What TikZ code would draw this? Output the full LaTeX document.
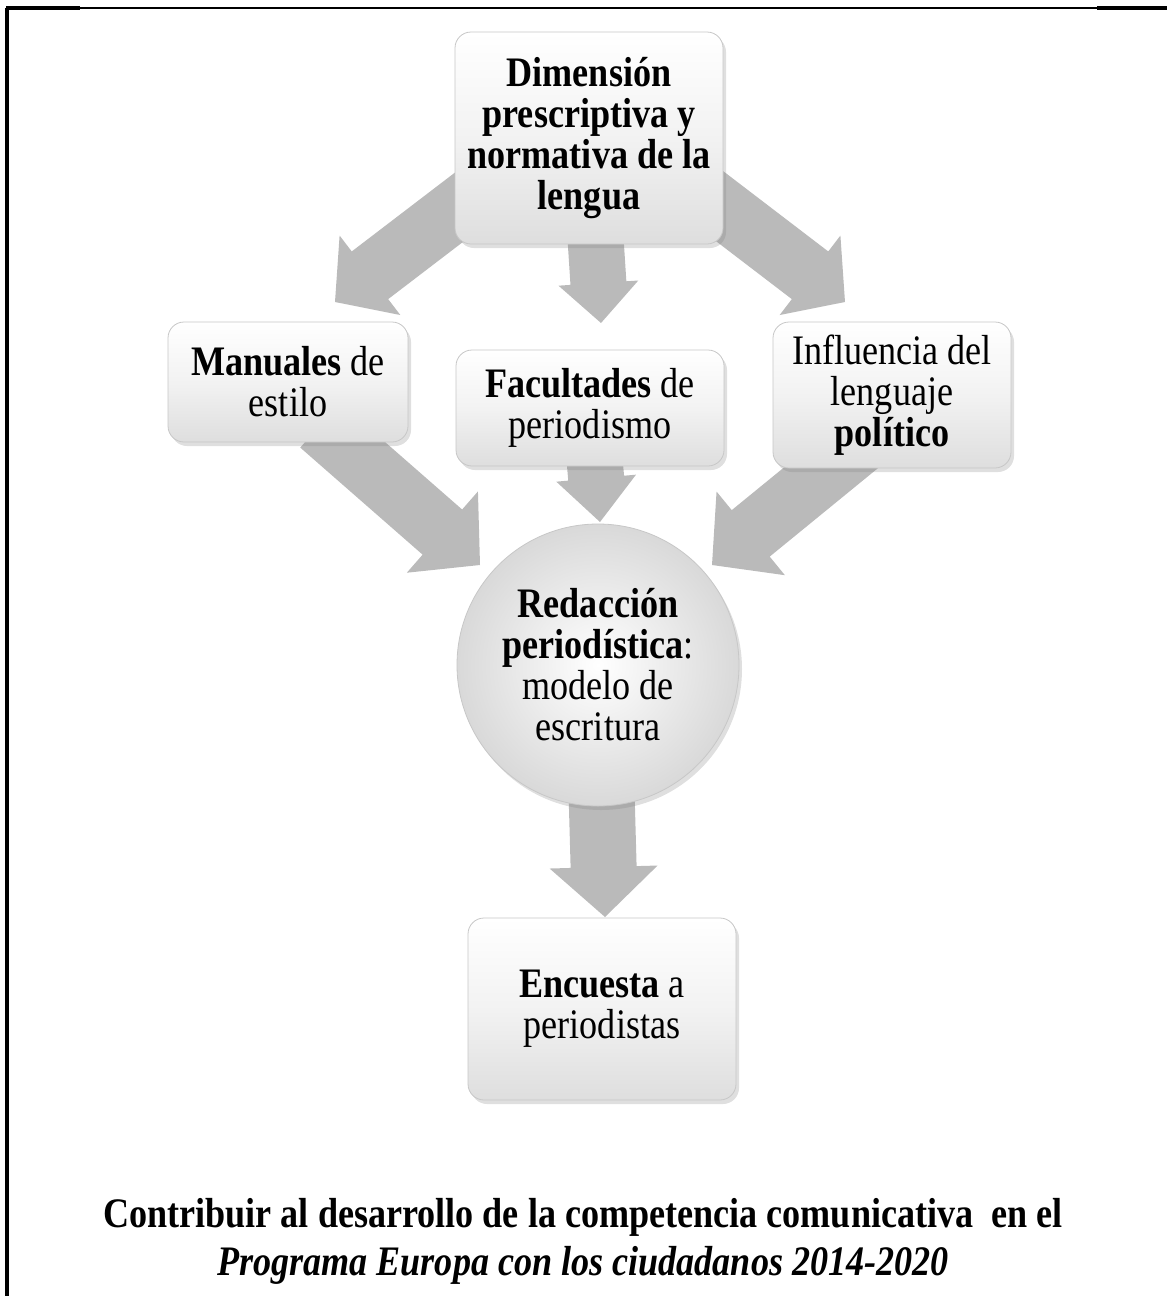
\documentclass[tikz,border=0pt]{standalone}
\usepackage{fontspec}
\setmainfont{Liberation Serif}[FakeStretch=0.86]
\usetikzlibrary{calc,shadows,backgrounds}

\tikzset{
  glossy/.style={rounded corners=8pt, draw=black!22, top color=white, bottom color=black!13,
    middle color=black!5, drop shadow={shadow xshift=1.5pt, shadow yshift=-2pt, opacity=0.25},
    align=center, font=\fontsize{21}{20.5}\selectfont},
}

% wide block arrow: start, tip, shaft half width, head half width, head length
\newcommand{\fatarrow}[5]{%
  \coordinate (hb) at ($(#2)!#5!(#1)$);
  \fill[black!27] ($(#1)!#3!90:(#2)$) -- ($(hb)!#3!-90:(#1)$) -- ($(hb)!#4!-90:(#1)$) -- (#2)
    -- ($(hb)!#4!90:(#1)$) -- ($(hb)!#3!90:(#1)$) -- ($(#1)!#3!-90:(#2)$) -- cycle;}

\begin{document}
\begin{tikzpicture}[x=0.5pt,y=-0.5pt]
            \useasboundingbox (0,0) rectangle (1167,1296);
            % page frame
            \draw[line width=1.6pt] (6,8) -- (80,8);
            \draw[line width=0.8pt] (80,8) -- (1097,8);
            \draw[line width=1.6pt] (1097,8) -- (1167,8);
            \draw[line width=1.6pt] (7,8) -- (7,1296);

            \begin{scope}[every node/.style={glossy}]
                \node[minimum width=134pt, minimum height=106pt] (dim) at (589,138) {\textbf{Dimensión}\\\textbf{prescriptiva y}\\\textbf{normativa de la}\\\textbf{lengua}};
                \node[minimum width=120pt, minimum height=60pt] (man) at (288,382) {\textbf{Manuales} de\\estilo};
                \node[minimum width=134pt, minimum height=58pt] (fac) at (590,408) {\textbf{Facultades} de\\periodismo};
                \node[minimum width=119pt, minimum height=73pt] (inf) at (892,395) {Influencia del\\lenguaje\\\textbf{político}};
                \node[circle, rounded corners=0pt, minimum size=141pt, inner color=white, outer color=black!15] (red) at (598,665) {\textbf{Redacción}\\\textbf{periodística}:\\modelo de\\escritura};
                \node[minimum width=134pt, minimum height=91pt] (enc) at (602,1009) {\textbf{Encuesta} a\\periodistas};
            \end{scope}

            % arrow ends
            \coordinate (p1) at (475,195);
            \coordinate (p2) at (335,302);
            \coordinate (p3) at (705,195);
            \coordinate (p4) at (845,302);
            \coordinate (p5) at (320,425);
            \coordinate (p6) at (480,565);
            \coordinate (p7) at (865,440);
            \coordinate (p8) at (712,565);
            \coordinate (p9) at (601,323);
            \coordinate (p10) at (600,522);
            \coordinate (p11) at (605,917);

            \begin{scope}[on background layer]
                \fatarrow{p1}{p2}{15pt}{25pt}{22pt}
                \fatarrow{p3}{p4}{15pt}{25pt}{22pt}
                \fatarrow{dim.center}{p9}{14pt}{20pt}{20pt}
                \fatarrow{p5}{p6}{15pt}{27pt}{25pt}
                \fatarrow{p7}{p8}{15pt}{27pt}{25pt}
                \fatarrow{fac.center}{p10}{14pt}{20pt}{22pt}
                \fatarrow{red.center}{p11}{16.5pt}{27pt}{25pt}
            \end{scope}

            % caption
            \node[font=\fontsize{21}{24}\selectfont\bfseries, align=center] (cap) at (583,1241)
                {Contribuir al desarrollo de la competencia comunicativa \ en el\\\textit{Programa Europa con los ciudadanos 2014-2020}};
        \end{tikzpicture}
\end{document}
